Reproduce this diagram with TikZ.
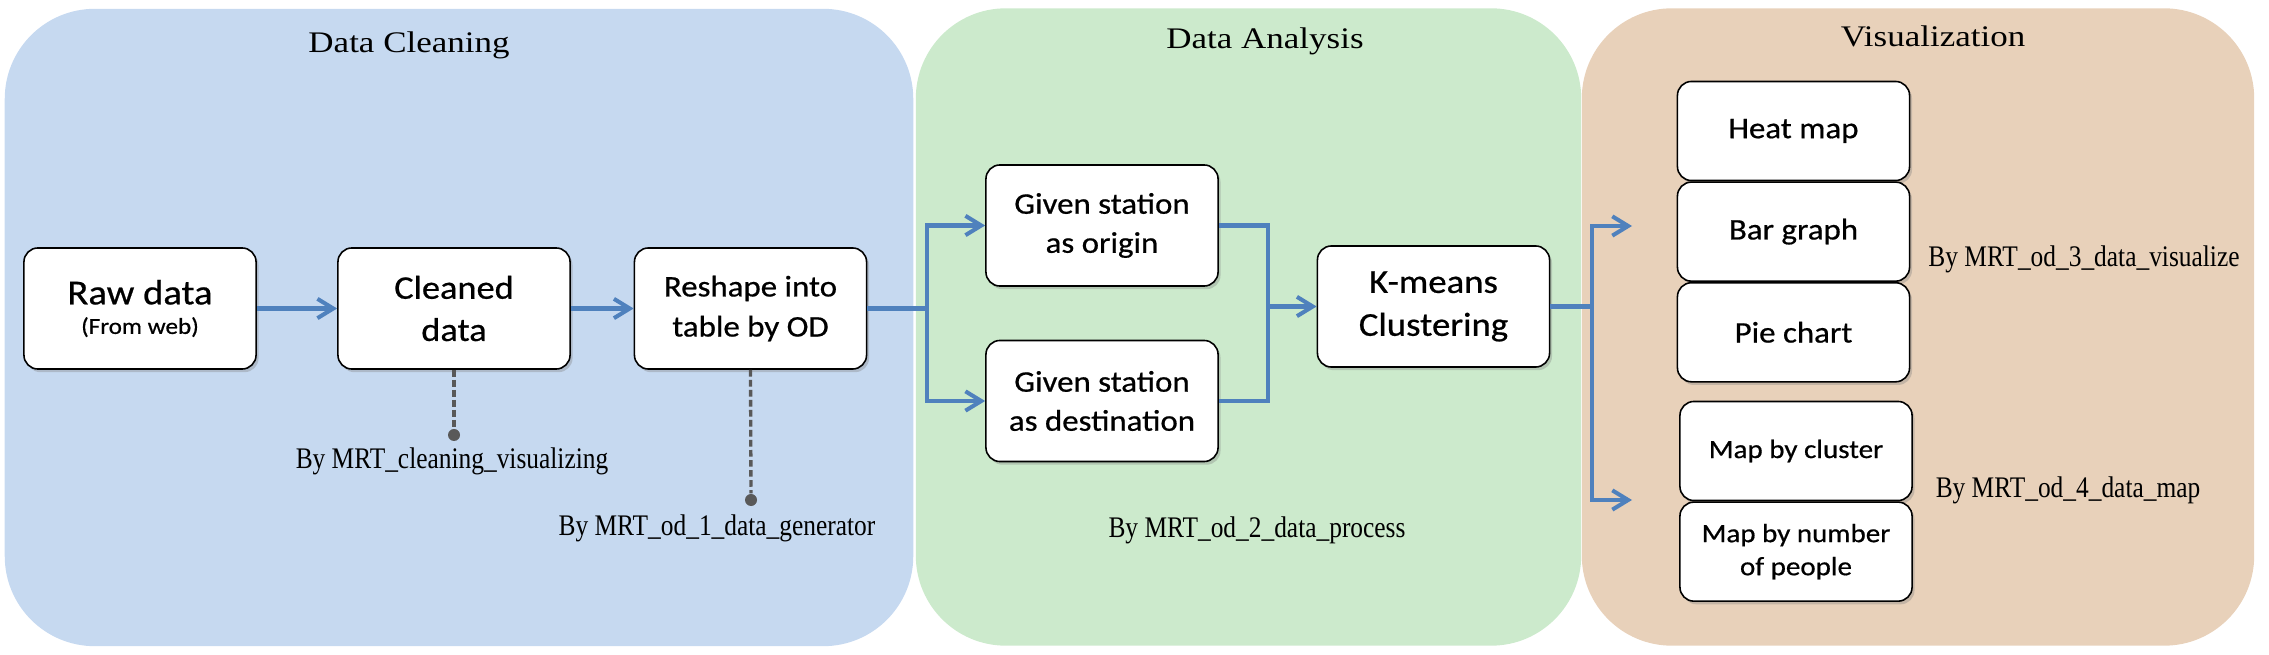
\documentclass[tikz,border=0pt]{standalone}
\usepackage{fontspec}
\setmainfont{Liberation Serif}
\newfontfamily\titlefont{Liberation Serif}[FakeStretch=1.17]
\newfontfamily\byfont{Liberation Serif}[FakeStretch=0.85]
\newfontfamily\boxfont{Carlito}[FakeStretch=1.1, FakeBold=0.6]
\usetikzlibrary{arrows.meta,positioning,shadows}
\definecolor{cleanblue}{HTML}{C6D9F0}
\definecolor{analysisgreen}{HTML}{CCEACC}
\definecolor{vistan}{HTML}{E8D1BA}
\definecolor{arrowblue}{HTML}{4F81BD}
\definecolor{dashgray}{HTML}{595959}

\begin{document}
\begin{tikzpicture}[x=0.01cm, y=-0.01cm,
  panel/.style = {shape=rectangle, rounded corners=0.9cm, minimum height=6.37cm},
  title/.style = {font=\titlefont\fontsize{8.5}{10}\selectfont},
  byline/.style = {font=\byfont\fontsize{8.5}{10}\selectfont},
%  box/.style = {shape=rectangle, rounded corners, draw, align=center},
  box/.style = {shape=rectangle, rounded corners=0.14cm, draw, line width=0.45pt,
    fill=white, align=center, minimum width=2.32cm, minimum height=1.21cm,
    drop shadow={shadow xshift=0.7pt, shadow yshift=-0.9pt, opacity=0.35}},
  vbox/.style = {box, minimum height=0.99cm, font=\boxfont\fontsize{8.5}{10}\selectfont},
  flow/.style = {draw=arrowblue, line width=1.15pt, -{Straight Barb[length=4.5pt,width=5.5pt]}},
  link/.style = {draw=arrowblue, line width=1.15pt},
  dashline/.style = {draw=dashgray, line width=0.95pt, dash pattern=on 1.9pt off 0.95pt},
  dot/.style = {circle, fill=dashgray, inner sep=0pt, minimum size=0.12cm}]
  \useasboundingbox (0,0) rectangle (2269,655);

  % the three stages
  \node[panel, fill=cleanblue, minimum width=9.08cm] (cleanpanel) at (459,327.5) {};
  \node[panel, fill=analysisgreen, minimum width=6.65cm] (analysispanel) at (1248.5,327) {};
  \node[panel, fill=vistan, minimum width=6.72cm] (vispanel) at (1918,327) {};
  \node[title] (cleantitle) at (409,45) {Data Cleaning};
  \node[title] (analysistitle) at (1265,41) {Data Analysis};
  \node[title] (vistitle) at (1933,36) {Visualization};

  % data cleaning
  \node[box, font=\boxfont\fontsize{10}{8.4}\selectfont] (raw) at (140,308.5)
    {Raw data\\{\fontsize{6.5}{8.4}\selectfont (From web)}};
  \node[box, font=\boxfont\fontsize{9.4}{12}\selectfont] (cleaned) at (454,308.5) {Cleaned\\data};
  \node[box, font=\boxfont\fontsize{8.5}{11.4}\selectfont] (reshape) at (750.5,308.5) {Reshape into\\table by OD};
  \node[dot] (cleaneddot) at (454,435) {};
  \node[dot] (reshapedot) at (751,500) {};
  \node[byline] (cleanedby) at (452,461) {By MRT\_cleaning\_visualizing};
  \node[byline] (reshapeby) at (717,528) {By MRT\_od\_1\_data\_generator};

  % data analysis
  \node[box, font=\boxfont\fontsize{8.5}{11.1}\selectfont] (origin) at (1102,225.5) {Given station\\as origin};
  \node[box, font=\boxfont\fontsize{8.5}{11.1}\selectfont] (destination) at (1102,401) {Given station\\as destination};
  \node[box, font=\boxfont\fontsize{9.5}{12.2}\selectfont] (kmeans) at (1433.5,306.5) {K-means\\Clustering};
  \node[byline] (analysisby) at (1257,530) {By MRT\_od\_2\_data\_process};

  % visualization
  \node[vbox] (heatmap) at (1793.5,131) {Heat map};
  \node[vbox, below=0pt of heatmap] (bargraph) {Bar graph};
  \node[vbox, below=0pt of bargraph] (piechart) {Pie chart};
  \node[vbox, font=\boxfont\fontsize{7.5}{9.4}\selectfont] (mapcluster) at (1796,451) {Map by cluster};
  \node[vbox, font=\boxfont\fontsize{7.5}{9.4}\selectfont, below=0pt of mapcluster] (mappeople) {Map by number\\of people};
  \node[byline] (chartby) at (2084,259) {By MRT\_od\_3\_data\_visualize};
  \node[byline] (mapby) at (2068,490) {By MRT\_od\_4\_data\_map};

  % connectors
  \coordinate (split) at (927,308.5);
  \coordinate (merge) at (1268,306.5);
  \coordinate (fork) at (1592,306.5);
  \coordinate (chartin) at (1632,226);
  \coordinate (mapin) at (1632,500);
  \draw[flow] (raw) -- (cleaned);
  \draw[flow] (cleaned) -- (reshape);
  \draw[flow] (reshape.east) -- (split) |- (origin.west);
  \draw[flow] (split) |- (destination.west);
  \draw[link] (origin.east) -| (destination.east -| merge) -- (destination.east);
  \draw[flow] (merge) -- (kmeans.west);
  \draw[flow] (kmeans.east) -- (fork) |- (chartin);
  \draw[flow] (fork) |- (mapin);
  \draw[dashline] (cleaned.south) -- (cleaneddot);
  \draw[dashline] (reshape.south) -- (reshapedot);
\end{tikzpicture}
\end{document}
